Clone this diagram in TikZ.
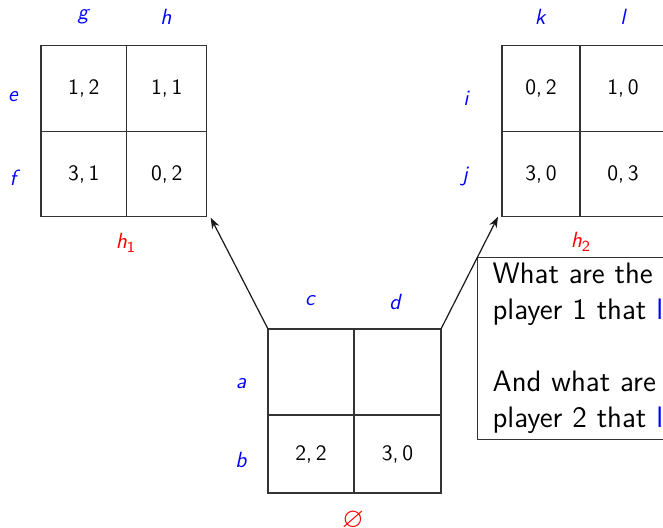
\documentclass[tikz,border=0pt]{standalone}
\usepackage{amssymb}
\usetikzlibrary{arrows.meta}
\tikzset{
  base/.style={font=\sffamily\fontsize{11}{13}\selectfont},
  cell/.style={base, draw=black!80, line width=0.6pt, inner sep=0pt, outer sep=0pt, text=black},
  act/.style={base, text=blue, font=\sffamily\itshape\fontsize{11}{13}\selectfont, inner sep=0pt},
  info/.style={base, text=red, inner sep=0pt},
  move/.style={-{Stealth[length=5.5pt,width=4pt]}, line width=0.6pt, black!90},
  qbox/.style={draw=black!80, line width=0.6pt, font=\sffamily\fontsize{14.8}{18}\selectfont,
    text width=150pt, align=left, inner xsep=7.5pt, inner ysep=1.8pt, minimum height=91pt}
}
\begin{document}
\begin{tikzpicture}[x=0.5pt,y=-0.5pt]
\useasboundingbox (0,0) rectangle (663,528);
% top-left game h1
\node[cell, minimum width=42.85pt, minimum height=42.8pt] (L11) at (83.85,88.5) {1,\,2};
\node[cell, minimum width=40pt, minimum height=42.8pt] (L12) at (166.7,88.5) {1,\,1};
\node[cell, minimum width=42.85pt, minimum height=42.7pt] (L21) at (83.85,174) {3,\,1};
\node[cell, minimum width=40pt, minimum height=42.7pt] (L22) at (166.7,174) {0,\,2};
\node[act] (lg) at (83,17) {g};
\node[act] (lh) at (166,17) {h};
\node[act] (le) at (13,97) {e};
\node[act] (lf) at (13,178) {f};
\node[info] (h1) at (126,243) {\textit{h}\textsubscript{1}};
% top-right game h2
\node[cell, minimum width=39pt, minimum height=42.8pt] (R11) at (541,88.5) {0,\,2};
\node[cell, minimum width=43pt, minimum height=42.8pt] (R12) at (623,88.5) {1,\,0};
\node[cell, minimum width=39pt, minimum height=42.7pt] (R21) at (541,174) {3,\,0};
\node[cell, minimum width=43pt, minimum height=42.7pt] (R22) at (623,174) {0,\,3};
\node[act] (lk) at (540,17) {k};
\node[act] (ll) at (623,17) {l};
\node[act] (li) at (466,98) {i};
\node[act] (lj) at (465,177) {j};
\node[info] (h2) at (581,242) {\textit{h}\textsubscript{2}};
% bottom game
\node[cell, minimum width=43pt, minimum height=43pt] (B11) at (311,372) {};
\node[cell, minimum width=43.5pt, minimum height=43pt] (B12) at (397.5,372) {};
\node[cell, minimum width=43pt, minimum height=39pt] (B21) at (311,454) {2,\,2};
\node[cell, minimum width=43.5pt, minimum height=39pt] (B22) at (397.5,454) {3,\,0};
\node[act] (lc) at (310,301) {c};
\node[act] (ld) at (395,302) {d};
\node[act] (la) at (241,384) {a};
\node[act] (lb) at (241,460) {b};
\node[info, font=\fontsize{14}{16}\selectfont] (root) at (353,520) {$\varnothing$};
% question box
\node[qbox, anchor=north west] (Q) at (477,257) {What are the\\player 1 that \textcolor{blue}{l}\\[18pt]And what are\\player 2 that \textcolor{blue}{l}};
% moves
\draw[move] (B11.north west) -- ([xshift=2pt,yshift=-0.5pt]L22.south east);
\draw[move] (B12.north east) -- ([xshift=-2pt]R21.south west);
\end{tikzpicture}
\end{document}
